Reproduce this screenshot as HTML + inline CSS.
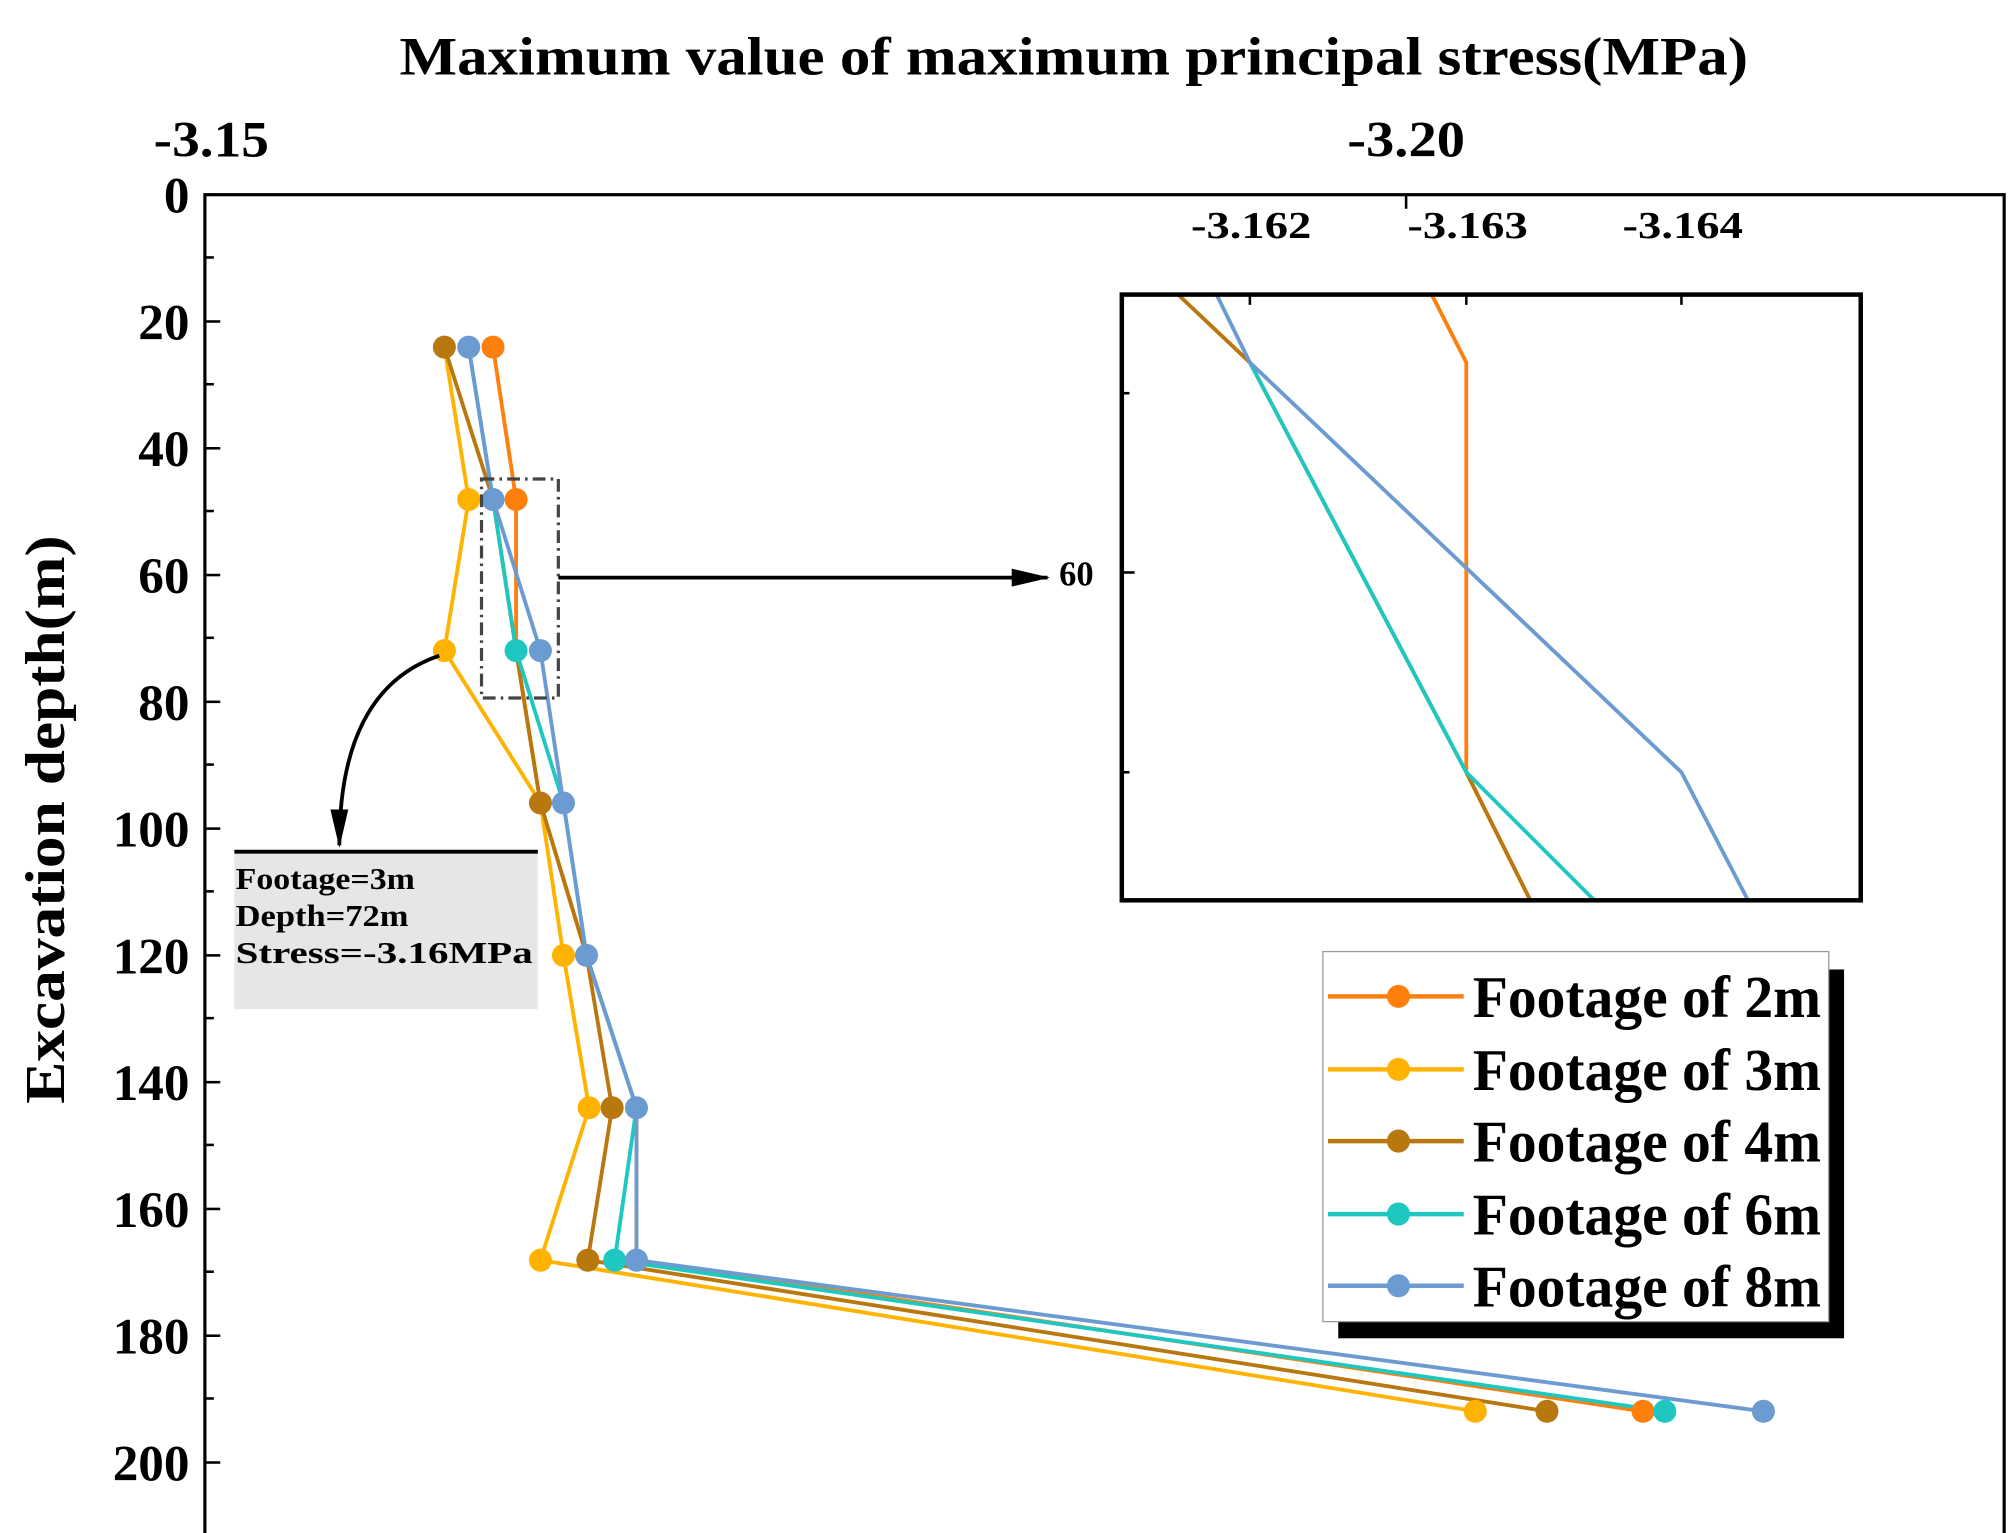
<!DOCTYPE html>
<html><head><meta charset="utf-8"><style>
html,body{margin:0;padding:0;background:#fff;}
svg{display:block;}
text{font-family:"Liberation Serif",serif;font-weight:bold;fill:#000;}
</style></head><body>
<svg width="2008" height="1533" viewBox="0 0 1568 1197" xmlns="http://www.w3.org/2000/svg">
<defs>
<marker id="ah2" markerWidth="30" markerHeight="14" refX="28" refY="7" orient="auto" markerUnits="userSpaceOnUse"><path d="M0,0 L30,7 L0,14 z" fill="#000"/></marker>
</defs>
<text x="312" y="58" font-size="42" textLength="1053" lengthAdjust="spacingAndGlyphs">Maximum value of maximum principal stress(MPa)</text>
<text x="120" y="122" font-size="40" textLength="90" lengthAdjust="spacingAndGlyphs">-3.15</text>
<text x="1052" y="122" font-size="40" textLength="92" lengthAdjust="spacingAndGlyphs">-3.20</text>
<!-- frame -->
<rect x="160" y="152" width="1405" height="1060" fill="none" stroke="#000" stroke-width="2.5"/>
<line x1="1098" y1="152" x2="1098" y2="163" stroke="#000" stroke-width="2"/>
<g stroke="#000" stroke-width="2">
<line x1="160" y1="152" x2="172" y2="152"/><line x1="160" y1="201" x2="167" y2="201"/>
<line x1="160" y1="251" x2="172" y2="251"/><line x1="160" y1="300" x2="167" y2="300"/>
<line x1="160" y1="350" x2="172" y2="350"/><line x1="160" y1="399" x2="167" y2="399"/>
<line x1="160" y1="449" x2="172" y2="449"/><line x1="160" y1="498" x2="167" y2="498"/>
<line x1="160" y1="548" x2="172" y2="548"/><line x1="160" y1="597" x2="167" y2="597"/>
<line x1="160" y1="647" x2="172" y2="647"/><line x1="160" y1="696" x2="167" y2="696"/>
<line x1="160" y1="746" x2="172" y2="746"/><line x1="160" y1="795" x2="167" y2="795"/>
<line x1="160" y1="845" x2="172" y2="845"/><line x1="160" y1="894" x2="167" y2="894"/>
<line x1="160" y1="944" x2="172" y2="944"/><line x1="160" y1="993" x2="167" y2="993"/>
<line x1="160" y1="1043" x2="172" y2="1043"/><line x1="160" y1="1092" x2="167" y2="1092"/>
<line x1="160" y1="1142" x2="172" y2="1142"/>
</g>
<g font-size="40" text-anchor="end">
<text x="148" y="166">0</text><text x="148" y="265">20</text><text x="148" y="364">40</text>
<text x="148" y="463">60</text><text x="148" y="562">80</text><text x="148" y="661">100</text>
<text x="148" y="760">120</text><text x="148" y="859">140</text><text x="148" y="958">160</text>
<text x="148" y="1057">180</text><text x="148" y="1156">200</text>
</g>
<text transform="translate(50,640) rotate(-90)" font-size="44" text-anchor="middle" textLength="444" lengthAdjust="spacingAndGlyphs">Excavation depth(m)</text>

<!-- series -->
<g fill="none" stroke-width="3">
<polyline stroke="#ff7f0e" points="385,271 403,390 403,508 422,627 458,746 497,865 497,984 1283,1102"/>
<polyline stroke="#ffb300" points="347,271 366,390 347,508 422,627 440,746 460,865 422,984 1152,1102"/>
<polyline stroke="#b8780f" points="347,271 385,390 403,508 422,627 458,746 478,865 459,984 1208,1102"/>
<polyline stroke="#1ec8c0" points="366,271 385,390 403,508 440,627 458,746 497,865 480,984 1300,1102"/>
<polyline stroke="#6b9bd1" points="366,271 385,390 422,508 440,627 458,746 497,865 497,984 1377,1102"/>
</g>
<g>
<g fill="#ff7f0e"><circle cx="385" cy="271" r="9"/><circle cx="403" cy="390" r="9"/><circle cx="1283" cy="1102" r="9"/></g>
<g fill="#ffb300"><circle cx="366" cy="390" r="9"/><circle cx="347" cy="508" r="9"/><circle cx="440" cy="746" r="9"/><circle cx="460" cy="865" r="9"/><circle cx="422" cy="984" r="9"/><circle cx="1152" cy="1102" r="9"/></g>
<g fill="#b8780f"><circle cx="347" cy="271" r="9"/><circle cx="422" cy="627" r="9"/><circle cx="478" cy="865" r="9"/><circle cx="459" cy="984" r="9"/><circle cx="1208" cy="1102" r="9"/></g>
<g fill="#1ec8c0"><circle cx="403" cy="508" r="9"/><circle cx="480" cy="984" r="9"/><circle cx="1300" cy="1102" r="9"/></g>
<g fill="#6b9bd1"><circle cx="366" cy="271" r="9"/><circle cx="385" cy="390" r="9"/><circle cx="422" cy="508" r="9"/><circle cx="440" cy="627" r="9"/><circle cx="458" cy="746" r="9"/><circle cx="497" cy="865" r="9"/><circle cx="497" cy="984" r="9"/><circle cx="1377" cy="1102" r="9"/></g>
</g>

<!-- dash-dot box and arrow -->
<rect x="376" y="374" width="60" height="171" fill="none" stroke="#444" stroke-width="2.5" stroke-dasharray="10,4,2,4"/>
<line x1="436" y1="451" x2="818" y2="451" stroke="#000" stroke-width="3" marker-end="url(#ah2)"/>
<path d="M343,512 C290,530 265,580 265,660" fill="none" stroke="#000" stroke-width="3" marker-end="url(#ah2)"/>

<!-- annotation -->
<rect x="183" y="665" width="237" height="123" fill="#e6e6e6"/>
<line x1="183" y1="665" x2="420" y2="665" stroke="#000" stroke-width="3"/>
<g font-size="24"><text x="184" y="694" textLength="140" lengthAdjust="spacingAndGlyphs">Footage=3m</text><text x="184" y="723" textLength="135" lengthAdjust="spacingAndGlyphs">Depth=72m</text><text x="184" y="752" textLength="232" lengthAdjust="spacingAndGlyphs">Stress=-3.16MPa</text></g>

<!-- inset -->
<g font-size="30"><text x="930" y="186" textLength="94" lengthAdjust="spacingAndGlyphs">-3.162</text><text x="1099" y="186" textLength="94" lengthAdjust="spacingAndGlyphs">-3.163</text><text x="1267" y="186" textLength="94" lengthAdjust="spacingAndGlyphs">-3.164</text></g>
<text x="854" y="457" font-size="27" text-anchor="end">60</text>
<svg x="876" y="230" width="577" height="473" viewBox="876 230 577 473">
<g fill="none" stroke-width="3">
<polyline stroke="#ff7f0e" points="1118,230 1145,283 1145,603 1195,703"/>
<polyline stroke="#b8780f" points="920,230 976,283 1145,603 1195,703"/>
<polyline stroke="#1ec8c0" points="976,283 1145,603 1245,703"/>
<polyline stroke="#6b9bd1" points="950,230 976,283 1313,603 1365,703"/>
</g>
</svg>
<rect x="876" y="230" width="577" height="473" fill="none" stroke="#000" stroke-width="3.5"/>
<g stroke="#000" stroke-width="2">
<line x1="976" y1="230" x2="976" y2="238"/><line x1="1145" y1="230" x2="1145" y2="238"/><line x1="1313" y1="230" x2="1313" y2="238"/>
<line x1="876" y1="447" x2="886" y2="447"/><line x1="876" y1="307" x2="882" y2="307"/><line x1="876" y1="603" x2="882" y2="603"/>
</g>

<!-- legend -->
<rect x="1045" y="757" width="395" height="288" fill="#000"/>
<rect x="1033" y="743" width="395" height="289" fill="#fff" stroke="#999" stroke-width="1"/>
<g stroke-width="3.5">
<line x1="1037" y1="778" x2="1143" y2="778" stroke="#ff7f0e"/>
<line x1="1037" y1="835" x2="1143" y2="835" stroke="#ffb300"/>
<line x1="1037" y1="891" x2="1143" y2="891" stroke="#b8780f"/>
<line x1="1037" y1="948" x2="1143" y2="948" stroke="#1ec8c0"/>
<line x1="1037" y1="1004" x2="1143" y2="1004" stroke="#6b9bd1"/>
</g>
<circle cx="1092" cy="778" r="9" fill="#ff7f0e"/><circle cx="1092" cy="835" r="9" fill="#ffb300"/>
<circle cx="1092" cy="891" r="9" fill="#b8780f"/><circle cx="1092" cy="948" r="9" fill="#1ec8c0"/>
<circle cx="1092" cy="1004" r="9" fill="#6b9bd1"/>
<g font-size="46">
<text x="1150" y="794" textLength="272" lengthAdjust="spacingAndGlyphs">Footage of 2m</text>
<text x="1150" y="851" textLength="272" lengthAdjust="spacingAndGlyphs">Footage of 3m</text>
<text x="1150" y="907" textLength="272" lengthAdjust="spacingAndGlyphs">Footage of 4m</text>
<text x="1150" y="964" textLength="272" lengthAdjust="spacingAndGlyphs">Footage of 6m</text>
<text x="1150" y="1020" textLength="272" lengthAdjust="spacingAndGlyphs">Footage of 8m</text>
</g>
</svg>
</body></html>
